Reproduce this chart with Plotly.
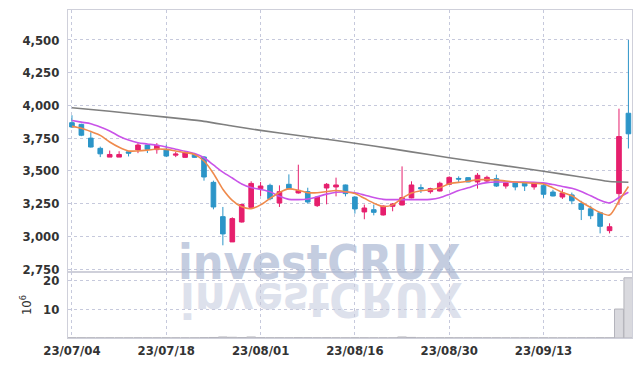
import base64
import plotly.graph_objects as go

dates = [
    "23/07/04", "23/07/05", "23/07/06", "23/07/07", "23/07/10", "23/07/11", "23/07/12", "23/07/13",
    "23/07/14", "23/07/17", "23/07/18", "23/07/19", "23/07/20", "23/07/21", "23/07/24", "23/07/25",
    "23/07/26", "23/07/27", "23/07/28", "23/07/31", "23/08/01", "23/08/02", "23/08/03", "23/08/04",
    "23/08/07", "23/08/08", "23/08/09", "23/08/10", "23/08/11", "23/08/14", "23/08/16", "23/08/17",
    "23/08/18", "23/08/21", "23/08/22", "23/08/23", "23/08/24", "23/08/25", "23/08/28", "23/08/29",
    "23/08/30", "23/08/31", "23/09/01", "23/09/04", "23/09/05", "23/09/06", "23/09/07", "23/09/08",
    "23/09/11", "23/09/12", "23/09/13", "23/09/14", "23/09/15", "23/09/18", "23/09/19", "23/09/20",
    "23/09/21", "23/09/22", "23/09/25", "23/09/26",
]

open_ = [3868, 3855, 3750, 3672, 3605, 3605, 3645, 3660, 3697, 3662,
         3664, 3620, 3603, 3625, 3606, 3412, 3150, 2957, 3109, 3221,
         3364, 3389, 3254, 3397, 3331, 3341, 3234, 3369, 3377, 3392,
         3300, 3186, 3203, 3163, 3229, 3239, 3293, 3372, 3341, 3346,
         3397, 3442, 3448, 3415, 3422, 3440, 3384, 3407, 3405, 3377,
         3387, 3338, 3300, 3316, 3250, 3210, 3180, 3043, 3326, 3940]
high = [3925, 3860, 3795, 3685, 3655, 3650, 3650, 3712, 3700, 3712,
        3700, 3645, 3645, 3636, 3613, 3425, 3224, 3145, 3250, 3420,
        3415, 3402, 3389, 3473, 3547, 3371, 3308, 3407, 3448, 3395,
        3305, 3242, 3242, 3236, 3254, 3534, 3420, 3397, 3371, 3417,
        3458, 3458, 3450, 3483, 3463, 3471, 3410, 3410, 3410, 3410,
        3402, 3356, 3359, 3334, 3271, 3233, 3183, 3099, 3975, 4500]
low = [3828, 3765, 3678, 3605, 3605, 3605, 3610, 3635, 3636, 3631,
       3605, 3605, 3600, 3600, 3425, 3206, 2931, 2957, 3105, 3215,
       3308, 3275, 3224, 3356, 3326, 3249, 3224, 3244, 3305, 3305,
       3173, 3130, 3160, 3158, 3191, 3236, 3290, 3331, 3326, 3343,
       3395, 3415, 3413, 3364, 3407, 3377, 3364, 3351, 3346, 3356,
       3293, 3305, 3285, 3245, 3124, 3131, 3022, 3022, 3240, 3671]
close = [3835, 3772, 3682, 3630, 3625, 3625, 3635, 3697, 3664, 3695,
         3613, 3628, 3636, 3603, 3453, 3224, 3018, 3135, 3242, 3404,
         3384, 3287, 3341, 3366, 3351, 3262, 3300, 3397, 3392, 3326,
         3209, 3216, 3183, 3231, 3247, 3295, 3392, 3362, 3364, 3405,
         3450, 3437, 3415, 3466, 3450, 3384, 3407, 3377, 3384, 3405,
         3321, 3308, 3331, 3271, 3205, 3157, 3076, 3073, 3762, 3783]

ma_short = [3840, 3825, 3800, 3771, 3720, 3680, 3652, 3652, 3658, 3667,
            3664, 3652, 3640, 3625, 3575, 3480, 3360, 3275, 3225, 3211,
            3240, 3290, 3335, 3362, 3352, 3333, 3333, 3342, 3350, 3340,
            3326, 3290, 3253, 3228, 3240, 3290, 3330, 3348, 3355, 3370,
            3402, 3412, 3420, 3432, 3433, 3430, 3422, 3415, 3410, 3405,
            3400, 3370, 3335, 3309, 3262, 3220, 3182, 3162, 3270, 3380]
ma_mid = [3885, 3872, 3860, 3835, 3805, 3765, 3735, 3715, 3705, 3695,
          3682, 3665, 3650, 3632, 3600, 3545, 3490, 3445, 3400, 3372,
          3358, 3340, 3305, 3282, 3280, 3285, 3302, 3322, 3336, 3338,
          3332, 3315, 3296, 3282, 3280, 3280, 3280, 3280, 3282, 3294,
          3320, 3350, 3370, 3395, 3410, 3415, 3415, 3415, 3415, 3413,
          3408, 3395, 3380, 3367, 3342, 3309, 3275, 3255, 3296, 3336]
long_idx = [0, 4, 8, 12, 14, 17, 20, 24, 28, 32, 36, 40, 44, 48, 52, 55, 57, 59]
ma_long = [3982, 3955, 3925, 3895, 3878, 3843, 3809, 3770, 3732, 3690, 3645,
           3600, 3558, 3518, 3475, 3442, 3418, 3413]

volume = [0.08, 0.07, 0.06, 0.05, 0.05, 0.04, 0.04, 0.05, 0.05, 0.05,
          0.06, 0.05, 0.05, 0.05, 0.12, 0.18, 0.35, 0.25, 0.15, 0.35,
          0.12, 0.08, 0.08, 0.06, 0.1, 0.08, 0.06, 0.08, 0.06, 0.05,
          0.08, 0.06, 0.05, 0.05, 0.05, 0.35, 0.2, 0.06, 0.05, 0.06,
          0.08, 0.05, 0.05, 0.06, 0.05, 0.05, 0.04, 0.04, 0.04, 0.04,
          0.05, 0.04, 0.04, 0.05, 0.06, 0.06, 0.08, 0.06, 10.0, 20.8]

tick_labels = ["23/07/04", "23/07/18", "23/08/01", "23/08/16", "23/08/30", "23/09/13"]
price_ticks = [2750, 3000, 3250, 3500, 3750, 4000, 4250, 4500]
vol_ticks = [10, 20]

PINK = "#e61f6d"
BLUE = "#2c95c8"
GRID = "#c6c9dc"
AXLINE = "#cfd0da"
FONT = "DejaVu Sans Condensed, Liberation Sans, sans-serif"
TICKFONT = dict(family=FONT, size=13, color="#333333", weight="bold")

fig = go.Figure()
fig.add_trace(go.Candlestick(
    x=dates, open=open_, high=high, low=low, close=close,
    increasing=dict(line=dict(color=PINK, width=1), fillcolor=PINK),
    decreasing=dict(line=dict(color=BLUE, width=1), fillcolor=BLUE),
    xaxis="x", yaxis="y", showlegend=False, hoverinfo="skip",
))
fig.add_trace(go.Scatter(x=[dates[i] for i in long_idx], y=ma_long, mode="lines",
                         line=dict(color="#7f7f7f", width=1.6, shape="spline", smoothing=0.6),
                         xaxis="x", yaxis="y", showlegend=False, hoverinfo="skip"))
fig.add_trace(go.Scatter(x=dates, y=ma_mid, mode="lines",
                         line=dict(color="#c953e8", width=1.6, shape="spline", smoothing=0.8),
                         xaxis="x", yaxis="y", showlegend=False, hoverinfo="skip"))
fig.add_trace(go.Scatter(x=dates, y=ma_short, mode="lines",
                         line=dict(color="#ef8a4c", width=1.6, shape="spline", smoothing=0.8),
                         xaxis="x", yaxis="y", showlegend=False, hoverinfo="skip"))
fig.add_trace(go.Bar(x=dates, y=volume, marker=dict(color="#d9d9de", line=dict(color="#b4b4bc", width=1)),
                     xaxis="x2", yaxis="y2", showlegend=False, hoverinfo="skip"))

# mirrored reflection of the watermark (decoration)
svg = (
    '<svg xmlns="http://www.w3.org/2000/svg" width="300" height="50">'
    '<g transform="scale(1,-1)"><text x="2" y="0" font-family="DejaVu Sans Condensed, sans-serif" '
    'font-weight="bold" font-size="48" fill="#dde1ec">investCRUX</text></g>'
    '</svg>'
)
src = "data:image/svg+xml;base64," + base64.b64encode(svg.encode()).decode()
W0, H0 = 564.0, 328.0
fig.add_layout_image(dict(source=src, xref="paper", yref="paper",
                          x=(178 - 68) / W0, y=(338 - 283) / H0,
                          sizex=300 / W0, sizey=50 / H0, sizing="stretch",
                          xanchor="left", yanchor="top", layer="below"))

fig.add_annotation(text="investCRUX", xref="paper", yref="paper",
                   x=(319 - 68) / W0, y=(338 - 262) / H0, xanchor="center", yanchor="middle",
                   showarrow=False, opacity=0.7,
                   font=dict(family="DejaVu Sans Condensed, sans-serif", size=48,
                             color="#acb8d3", weight="bold"))

axis_common = dict(showline=True, linecolor=AXLINE, linewidth=1, mirror=True, automargin=False,
                   showgrid=True, gridcolor=GRID, griddash="dot", gridwidth=1, zeroline=False,
                   tickfont=TICKFONT)

fig.update_layout(
    width=642, height=366,
    margin=dict(l=68, r=10, t=10, b=28),
    paper_bgcolor="white", plot_bgcolor="rgba(0,0,0,0)",
    showlegend=False,
    font=dict(family=FONT, size=13, color="#2b2b2b"),
    xaxis=dict(type="category", domain=[0, 1], anchor="y", range=[-0.42, 59.38],
               tickvals=tick_labels, showticklabels=False, rangeslider=dict(visible=False),
               **axis_common),
    yaxis=dict(domain=[0.2012, 1], anchor="x", range=[2727, 4729], tickvals=price_ticks,
               tickformat=",d", ticklabelstandoff=5, **axis_common),
    xaxis2=dict(type="category", domain=[0, 1], anchor="y2", matches="x", range=[-0.42, 59.38],
                tickvals=tick_labels, ticktext=tick_labels, ticklabelstandoff=0, **axis_common),
    yaxis2=dict(domain=[0, 0.2012], anchor="x2", range=[0, 22.8], tickvals=vol_ticks,
                ticklabelstandoff=5,
                title=dict(text="10<sup>6</sup>", standoff=8, font=dict(size=13, color="#333333")),
                **axis_common),
    bargap=0.05,
)

fig.write_html("out.html")
